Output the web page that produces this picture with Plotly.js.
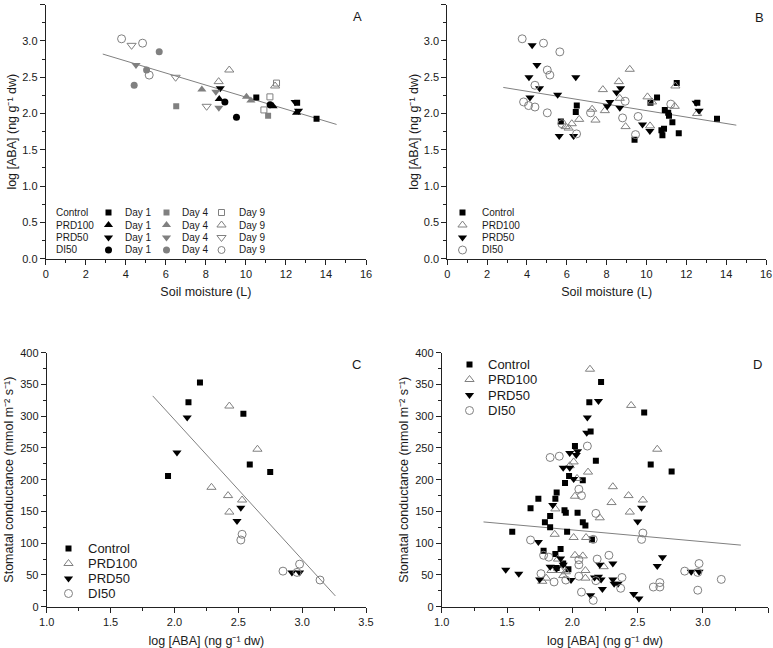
<!DOCTYPE html>
<html><head><meta charset="utf-8">
<script src="https://cdn.plot.ly/plotly-3.0.1.min.js"></script>
<style>html,body{margin:0;padding:0;background:#fff}#chart{width:773px;height:648px}</style>
</head><body><div id="chart"></div>
<script>
// ---------- Panel A : soil moisture (L) vs log[ABA], by treatment and day ----------
const aCtrlD1X=[10.52,12.56,13.53], aCtrlD1Y=[2.22,2.15,1.93];
const aCtrlD4X=[6.52,11.11], aCtrlD4Y=[2.10,1.97];
const aCtrlD9X=[10.90,11.20,11.53], aCtrlD9Y=[2.05,2.23,2.42];
const aP100D1X=[8.67,11.36,12.53], aP100D1Y=[2.20,2.10,2.01];
const aP100D4X=[7.80,10.03,10.25], aP100D4Y=[2.33,2.23,2.18];
const aP100D9X=[8.64,9.17,11.46], aP100D9Y=[2.44,2.60,2.38];
const aP50D1X=[8.72,12.46,12.63], aP50D1Y=[2.35,2.16,2.04];
const aP50D4X=[4.51,8.50,8.65], aP50D4Y=[2.67,2.30,2.08];
const aP50D9X=[4.29,6.49,8.04], aP50D9Y=[2.94,2.50,2.10];
const aDI50D1X=[8.95,9.53,11.21], aDI50D1Y=[2.16,1.95,2.12];
const aDI50D4X=[4.42,5.04,5.67], aDI50D4Y=[2.39,2.60,2.85];
const aDI50D9X=[3.79,4.84,5.17], aDI50D9Y=[3.03,2.97,2.53];
const aFitX=[2.85,14.53], aFitY=[2.82,1.85];

// ---------- Panel B : all replicates ----------
const bCtrlX=[5.70,6.45,6.50,9.40,10.20,10.53,10.92,11.09,11.13,11.30,11.52,11.62,10.75,10.88,10.80,12.55,13.54];
const bCtrlY=[1.89,2.02,2.11,1.64,2.15,2.22,2.05,2.01,1.97,1.88,2.42,1.73,1.77,1.79,1.70,2.15,1.93];
const bP100X=[5.94,6.09,6.25,6.62,7.27,7.44,7.81,7.91,8.61,8.66,8.95,9.16,10.05,10.28,10.18,11.42,11.45,12.54];
const bP100Y=[1.82,1.80,1.86,1.92,2.06,1.91,2.33,2.04,2.44,2.21,1.82,2.61,2.23,2.16,1.83,2.10,2.38,2.00];
const bP50X=[4.26,4.50,4.10,6.45,4.63,5.54,4.15,5.62,6.34,8.70,8.50,8.16,8.03,8.66,9.80,10.17,12.49,12.64];
const bP50Y=[2.94,2.67,2.50,2.50,2.35,2.26,2.22,1.69,1.69,2.35,2.29,2.16,2.10,2.08,1.85,1.76,2.15,2.04];
const bDI50X=[3.76,4.83,5.65,5.02,5.15,4.40,3.83,4.08,4.40,5.02,5.75,6.49,7.19,8.93,8.80,9.58,9.45,11.22];
const bDI50Y=[3.03,2.97,2.85,2.60,2.53,2.39,2.16,2.11,2.09,2.01,1.86,1.72,2.01,2.17,1.94,1.96,1.71,2.13];
const bFitX=[2.81,14.51], bFitY=[2.36,1.84];

// ---------- Panel C : log[ABA] vs stomatal conductance ----------
const cCtrlX=[1.95,2.11,2.20,2.54,2.59,2.75], cCtrlY=[206,322,353,304,224,212];
const cP100X=[2.43,2.65,2.29,2.42,2.43,2.53], cP100Y=[316,248,188,175,149,168];
const cP50X=[2.10,2.02,2.52,2.49,2.92,2.98], cP50Y=[298,243,156,135,54,54];
const cDI50X=[2.53,2.52,2.85,2.98,2.96,3.14], cDI50Y=[114,105,56,67,54,42];
const cFitX=[1.83,3.26], cFitY=[332,17];

// ---------- Panel D : all replicates ----------
const dCtrlX=[2.22,2.13,2.14,2.02,2.18,2.55,2.60,2.76,1.975,1.944,2.08,1.88,1.87,1.74,1.68,1.94,1.95,2.04,1.79,2.08,2.10,1.83,1.96,1.54,2.15,1.78,1.87,1.91,1.88,1.93,1.97,1.83];
const dCtrlY=[354,322,276,253,230,306,224,213,206,195,199,180,170,170,155,152,148,148,133,133,128,125,118,118,106,88,83,91,61,68,59,143];
const dP100X=[2.135,2.45,2.65,2.31,2.43,2.30,2.54,2.44,2.12,1.98,2.01,2.036,2.02,2.21,1.87,1.865,2.01,2.105,1.89,2.02,2.08,2.24,1.84,1.91,1.95,2.10,1.77,1.80,2.10,1.93];
const dP100Y=[374,317,248,189,175,164,168,149,212,222,228,202,174,140,154,114,109,109,75,81,80,63,57,57,55,57,40,45,45,49];
const dP50X=[2.20,2.115,2.11,1.98,2.03,2.04,1.93,1.98,2.01,1.85,2.53,2.50,1.74,1.91,1.83,1.88,1.93,2.21,2.31,1.49,1.59,1.75,1.99,2.17,2.20,2.22,2.31,2.32,2.35,2.23,2.14,2.47,2.51,2.65,2.69,2.91,2.97];
const dP50Y=[324,298,274,242,239,245,219,219,201,160,156,134,102,76,63,60,66,66,68,58,52,43,42,46,47,43,43,36,36,28,18,20,13,64,78,55,55];
const dDI50X=[2.115,1.83,1.90,2.05,2.07,2.18,2.16,1.68,2.54,2.53,1.78,1.82,2.05,2.05,2.19,2.28,1.76,1.86,1.95,2.05,2.18,2.07,2.16,2.38,2.37,2.62,2.67,2.67,2.86,2.96,2.97,3.14,2.96];
const dDI50Y=[253,235,237,185,175,147,106,105,116,106,81,78,74,66,75,81,52,39,42,48,41,23,10,46,29,31,31,38,56,54,68,43,26];
const dFitX=[1.32,3.29], dFitY=[133.5,97];

// ---------- labels ----------
const treatments=['Control','PRD100','PRD50','DI50'];
const days=['Day 1','Day 4','Day 9'];
const panelLetters=['A','B','C','D'];
const soilTitle='Soil moisture (L)';
const abaTitle='log [ABA] (ng g\u207B\u00B9 dw)';
const gsTitle='Stomatal conductance (mmol m\u207B\u00B2 s\u207B\u00B9)';

// ---------- styling ----------
const W=773,H=648;
const FONT='Liberation Sans, Arial, sans-serif';
const TXT='#1a1a1a', GRAY='#808080', BLACK='#000000';
const px=x=>x/W, py=y=>1-y/H;
const SQ=6, TR=8, CI=8;

function pts(x,y,xa,ya,symbol,color,size){
  const open=symbol.endsWith('-open');
  return {type:'scatter',mode:'markers',x:x,y:y,xaxis:xa,yaxis:ya,showlegend:false,hoverinfo:'skip',
    marker:{symbol:symbol,color:color,size:size,line:{width:open?1:0,color:color}}};
}
function fit(x,y,xa,ya){
  return {type:'scatter',mode:'lines',x:x,y:y,xaxis:xa,yaxis:ya,showlegend:false,hoverinfo:'skip',
    line:{color:GRAY,width:1}};
}
const traces=[
  fit(aFitX,aFitY,'x','y'),
  pts(aCtrlD1X,aCtrlD1Y,'x','y','square',BLACK,SQ),
  pts(aCtrlD4X,aCtrlD4Y,'x','y','square',GRAY,SQ),
  pts(aCtrlD9X,aCtrlD9Y,'x','y','square-open',GRAY,SQ),
  pts(aP100D1X,aP100D1Y,'x','y','triangle-up',BLACK,TR),
  pts(aP100D4X,aP100D4Y,'x','y','triangle-up',GRAY,TR),
  pts(aP100D9X,aP100D9Y,'x','y','triangle-up-open',GRAY,TR),
  pts(aP50D1X,aP50D1Y,'x','y','triangle-down',BLACK,TR),
  pts(aP50D4X,aP50D4Y,'x','y','triangle-down',GRAY,TR),
  pts(aP50D9X,aP50D9Y,'x','y','triangle-down-open',GRAY,TR),
  pts(aDI50D1X,aDI50D1Y,'x','y','circle',BLACK,CI-1),
  pts(aDI50D4X,aDI50D4Y,'x','y','circle',GRAY,CI-1),
  pts(aDI50D9X,aDI50D9Y,'x','y','circle-open',GRAY,CI),

  fit(bFitX,bFitY,'x2','y2'),
  pts(bCtrlX,bCtrlY,'x2','y2','square',BLACK,SQ),
  pts(bP100X,bP100Y,'x2','y2','triangle-up-open',GRAY,TR),
  pts(bP50X,bP50Y,'x2','y2','triangle-down',BLACK,TR),
  pts(bDI50X,bDI50Y,'x2','y2','circle-open',GRAY,CI),

  fit(cFitX,cFitY,'x3','y3'),
  pts(cCtrlX,cCtrlY,'x3','y3','square',BLACK,SQ),
  pts(cP100X,cP100Y,'x3','y3','triangle-up-open',GRAY,TR),
  pts(cP50X,cP50Y,'x3','y3','triangle-down',BLACK,TR),
  pts(cDI50X,cDI50Y,'x3','y3','circle-open',GRAY,CI),

  fit(dFitX,dFitY,'x4','y4'),
  pts(dCtrlX,dCtrlY,'x4','y4','square',BLACK,SQ),
  pts(dP100X,dP100Y,'x4','y4','triangle-up-open',GRAY,TR),
  pts(dP50X,dP50Y,'x4','y4','triangle-down',BLACK,TR),
  pts(dDI50X,dDI50Y,'x4','y4','circle-open',GRAY,CI)
];

// ---------- legend keys (drawn on a full-page overlay axis in pixel units) ----------
function key(kx,ky,symbol,color,size){
  const t=pts([kx],[ky],'x5','y5',symbol,color,size); t.cliponaxis=false; traces.push(t);
}
const annotations=[];
function txt(x,y,t,size,anchor){
  annotations.push({xref:'paper',yref:'paper',x:px(x),y:py(y),text:t,showarrow:false,
    xanchor:anchor||'left',yanchor:'middle',font:{family:FONT,size:size,color:TXT}});
}
// legend A : treatment rows x day columns
const aRows=[212.5,225,237.5,250];
const aSym=[['square','square','square-open'],['triangle-up','triangle-up','triangle-up-open'],
            ['triangle-down','triangle-down','triangle-down-open'],['circle','circle','circle-open']];
const aSz=[SQ,TR,TR,CI-1];
const aCol=[BLACK,GRAY,GRAY];
const aKeyX=[108.5,166.5,221.5], aDayX=[122.5,179.5,236.5];
treatments.forEach((t,i)=>{
  txt(54,aRows[i],t,10);
  days.forEach((d,j)=>{ key(aKeyX[j],aRows[i],aSym[i][j],aCol[j],aSz[i]); txt(aDayX[j],aRows[i],d,10); });
});
// legends B, C, D
const lgSym=['square','triangle-up-open','triangle-down','circle-open'];
const lgCol=[BLACK,GRAY,BLACK,GRAY], lgSz=[SQ,TR,TR,CI];
function legend(kx,tx,rows,size){
  treatments.forEach((t,i)=>{ key(kx,rows[i],lgSym[i],lgCol[i],lgSz[i]); txt(tx,rows[i],t,size); });
}
legend(462.5,479.5,[212.5,225,237.5,250],10);
legend(68.5,86,[548.5,563.5,578.5,593.5],13);
legend(469.5,486,[364.5,379.5,395,410.5],13);
// panel letters
[[357.3,16.5],[759.3,17.3],[356.7,364],[757.3,364]].forEach((p,i)=>txt(p[0],p[1],panelLetters[i],13,'center'));

function ax(domain,range,dtick,minor,fmt,title,anchor,standoff){
  return {domain:domain,range:range,dtick:dtick,tick0:0,tickformat:fmt,
    showline:true,linecolor:'#222',linewidth:1,mirror:false,
    ticks:'outside',ticklen:5,tickwidth:1,tickcolor:'#222',
    minor:{ticks:'outside',ticklen:3,tickwidth:1,tickcolor:'#222',dtick:minor},
    showgrid:false,zeroline:false,anchor:anchor,automargin:false,fixedrange:true,
    tickfont:{family:FONT,size:11,color:TXT},
    title:{text:title,font:{family:FONT,size:12.5,color:TXT},standoff:standoff}};
}
const A={x0:45.7,x1:366,y0:4.7,y1:258.7};
const B={x0:447.3,x1:766,y0:4.7,y1:258.7};
const C={x0:46.7,x1:366,y0:352.7,y1:606.7};
const D={x0:441.7,x1:768.3,y0:352.7,y1:606.7};
const xd=p=>[px(p.x0),px(p.x1)], yd=p=>[py(p.y1),py(p.y0)];
const hidden={domain:[0,1],visible:false,fixedrange:true,showgrid:false,zeroline:false};

const layout={width:W,height:H,margin:{l:0,r:0,t:0,b:0},paper_bgcolor:'#fff',plot_bgcolor:'rgba(0,0,0,0)',
  showlegend:false,font:{family:FONT,color:TXT},
  xaxis: ax(xd(A),[0,16],2,1,'d',soilTitle,'y',8),
  yaxis: ax(yd(A),[0,3.5],0.5,0.25,'.1f',abaTitle,'x',2),
  xaxis2:ax(xd(B),[0,16],2,1,'d',soilTitle,'y2',8),
  yaxis2:ax(yd(B),[0,3.5],0.5,0.25,'.1f',abaTitle,'x2',2),
  xaxis3:ax(xd(C),[1,3.5],0.5,0.25,'.1f',abaTitle,'y3',9),
  yaxis3:ax(yd(C),[0,400],50,25,'d',gsTitle,'x3',3),
  xaxis4:ax(xd(D),[1,3.5],0.5,0.25,'.1f',abaTitle,'y4',9),
  yaxis4:ax(yd(D),[0,400],50,25,'d',gsTitle,'x4',3),
  xaxis5:Object.assign({},hidden,{range:[0,W],anchor:'y5'}),
  yaxis5:Object.assign({},hidden,{range:[H,0],anchor:'x5'}),
  annotations:annotations};
Plotly.newPlot('chart',traces,layout,{staticPlot:true,displayModeBar:false});
</script></body></html>
